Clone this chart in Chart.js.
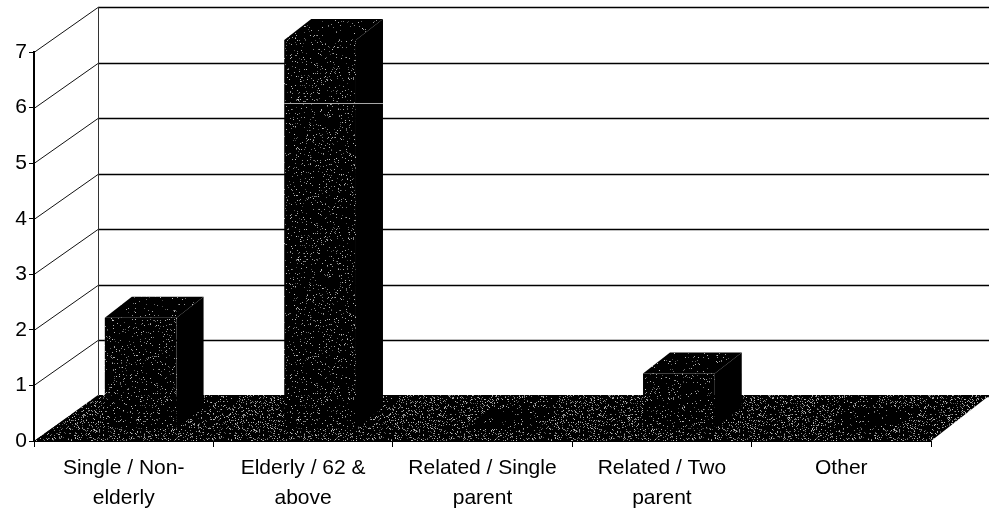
<!DOCTYPE html>
<html>
<head>
<meta charset="utf-8">
<style>
	html, body { margin: 0; padding: 0; background: #fff; }
	#wrap { width: 989px; height: 510px; }
</style>
<script src="https://cdn.jsdelivr.net/npm/chart.js@4/dist/chart.umd.min.js"></script>
</head>
<body>
<div id="wrap"><canvas id="barcanvas"></canvas></div>
<script>
var categories = [
	["Single / Non-", "elderly"],
	["Elderly / 62 &", "above"],
	["Related / Single", "parent"],
	["Related / Two", "parent"],
	["Other"]
];
var households = [2, 7, 0, 1, 0];
var yTicks = [0, 1, 2, 3, 4, 5, 6, 7];

// fake 3d: back wall offset from the front plane, bars sit part way in
var wallDx = 64, wallDy = -45;
var barDx = 17, barDy = -12;
var depthDx = 27, depthDy = -21;
var floorRight = 990;
var seamValue = 5.86; // the pale line across the tall bar

// speckled black like the scan. fixed sequence so it draws the same every time
function speckle(density, seed) {
	var c = document.createElement("canvas");
	c.width = 160;
	c.height = 160;
	var g = c.getContext("2d");
	g.fillStyle = "#000";
	g.fillRect(0, 0, 160, 160);
	var s = seed;
	for (var y = 0; y < 160; y++) {
		for (var x = 0; x < 160; x++) {
			s = (s * 1103515245 + 12345) % 2147483648;
			if (s / 2147483648 < density) {
				var v = 70 + (s % 130);
				g.fillStyle = "rgb(" + v + "," + v + "," + v + ")";
				g.fillRect(x, y, 1, 1);
			}
		}
	}
	return g.createPattern(c, "repeat");
}

var floorFill = speckle(0.15, 7);
var frontFill = speckle(0.06, 21);
var topFill = speckle(0.03, 33);

function poly(ctx, pts, fill) {
	ctx.beginPath();
	ctx.moveTo(pts[0][0], pts[0][1]);
	for (var i = 1; i < pts.length; i++) ctx.lineTo(pts[i][0], pts[i][1]);
	ctx.closePath();
	ctx.fillStyle = fill;
	ctx.fill();
}

var depth3d = {
	id: "depth3d",
	beforeDraw: function(chart) {
		var ctx = chart.ctx, a = chart.chartArea, y = chart.scales.y;
		ctx.save();
		yTicks.forEach(function(t) {
			var py = Math.round(y.getPixelForValue(t)) + 0.5;
			ctx.strokeStyle = "#111";
			ctx.lineWidth = 1;
			ctx.beginPath();
			ctx.moveTo(a.left, py);
			ctx.lineTo(a.left + wallDx, py + wallDy);
			ctx.stroke();
			ctx.strokeStyle = "#000";
			ctx.lineWidth = 1.4;
			ctx.beginPath();
			ctx.moveTo(a.left + wallDx, py + wallDy);
			ctx.lineTo(chart.width, py + wallDy);
			ctx.stroke();
		});
		// back wall edge
		ctx.strokeStyle = "#333";
		ctx.lineWidth = 1;
		ctx.beginPath();
		ctx.moveTo(a.left + wallDx + 0.5, a.top + wallDy);
		ctx.lineTo(a.left + wallDx + 0.5, a.bottom + wallDy);
		ctx.stroke();
		// floor
		poly(ctx, [
			[a.left, a.bottom],
			[a.left + wallDx, a.bottom + wallDy - 1],
			[floorRight, a.bottom + wallDy - 1],
			[a.right, a.bottom]
		], floorFill);
		ctx.restore();
	},
	beforeDatasetsDraw: function(chart) {
		var ctx = chart.ctx;
		ctx.save();
		ctx.translate(barDx, barDy);
		chart.getDatasetMeta(0).data.forEach(function(bar) {
			var l = bar.x - bar.width / 2, r = bar.x + bar.width / 2;
			poly(ctx, [[l, bar.y], [l + depthDx, bar.y + depthDy], [r + depthDx, bar.y + depthDy], [r, bar.y]], topFill);
			poly(ctx, [[r, bar.y], [r + depthDx, bar.y + depthDy], [r + depthDx, bar.base + depthDy], [r, bar.base]], "#000");
		});
	},
	afterDatasetsDraw: function(chart) {
		var ctx = chart.ctx, y = chart.scales.y;
		var bar = chart.getDatasetMeta(0).data[1];
		var py = Math.round(y.getPixelForValue(seamValue)) + 0.5;
		ctx.strokeStyle = "#a8a8a8";
		ctx.lineWidth = 1;
		ctx.beginPath();
		ctx.moveTo(bar.x - bar.width / 2, py);
		ctx.lineTo(bar.x + bar.width / 2 + depthDx, py);
		ctx.stroke();
		ctx.restore();
	}
};

var chartdata = {
	labels: categories,
	datasets: [
		{
			label: "Households",
			data: households,
			backgroundColor: frontFill,
			borderWidth: 0,
			barPercentage: 0.4,
			categoryPercentage: 1,
			clip: false
		}
	]
};

var axisFont = { family: "'Liberation Sans', Arial, sans-serif", size: 21, lineHeight: 1.43 };

var LineGraph = new Chart(document.getElementById("barcanvas"), {
	type: "bar",
	data: chartdata,
	plugins: [depth3d],
	options: {
		responsive: true,
		maintainAspectRatio: false,
		animation: false,
		layout: { padding: { top: 52, right: 58, left: 0, bottom: 0 } },
		plugins: { legend: { display: false }, tooltip: { enabled: false } },
		scales: {
			x: {
				afterFit: function(scale) { scale.height = 69; },
				grid: { drawOnChartArea: false, color: "#000", tickLength: 6 },
				border: { color: "#000", width: 1 },
				ticks: { color: "#000", font: axisFont, padding: 6, maxRotation: 0, autoSkip: false }
			},
			y: {
				min: 0,
				max: 7,
				afterFit: function(scale) { scale.width = 34; },
				afterBuildTicks: function(scale) {
					scale.ticks = yTicks.map(function(v) { return { value: v }; });
				},
				grid: { drawOnChartArea: false, color: "#000", tickLength: 5 },
				border: { color: "#000", width: 2 },
				ticks: { color: "#000", font: axisFont, padding: 2 }
			}
		}
	}
});
</script>
</body>
</html>
